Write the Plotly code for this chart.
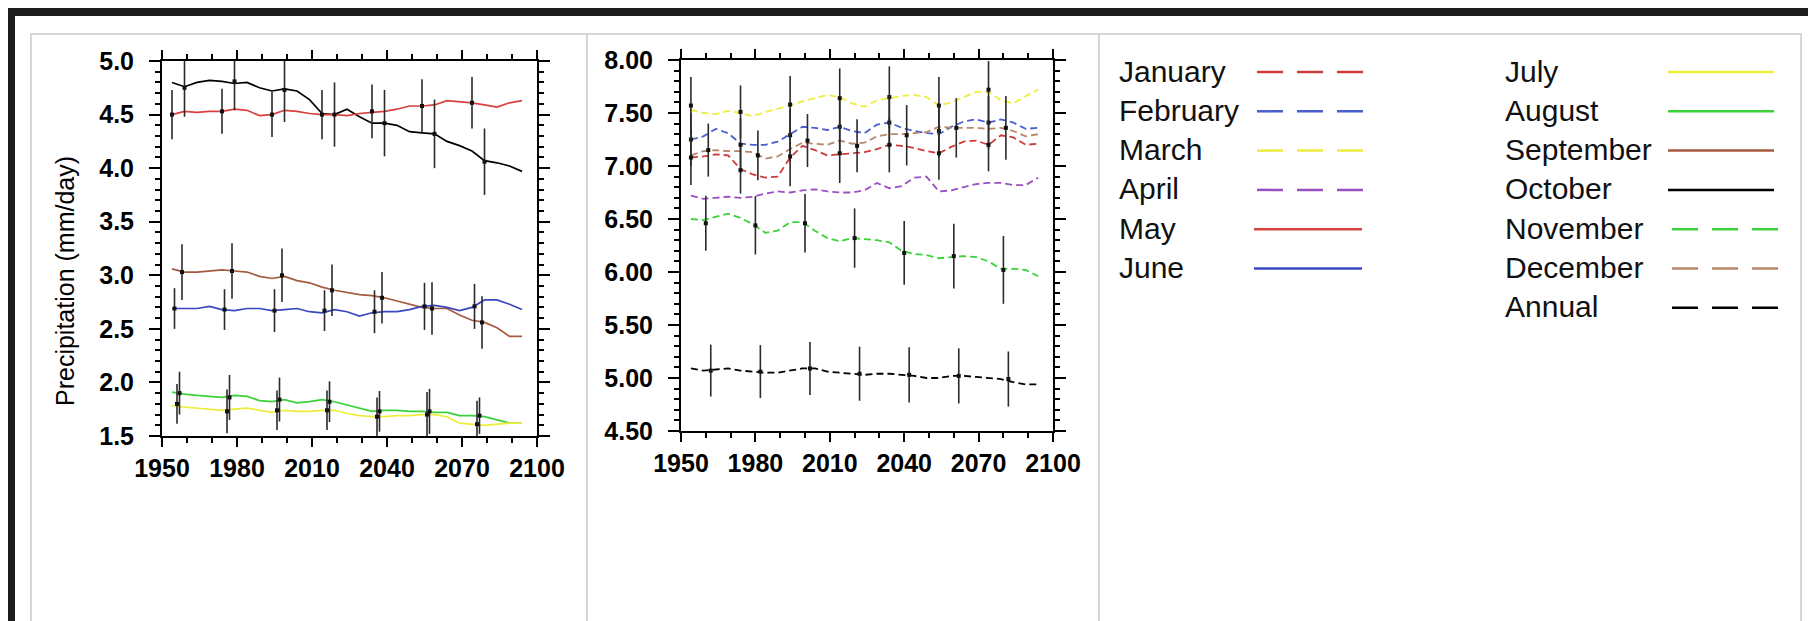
import plotly.graph_objects as go

W, H = 1816, 621

YEARS = [1954, 1959, 1964, 1969, 1974, 1979, 1984, 1989, 1994, 1999, 2004, 2009, 2014, 2019,
         2024, 2029, 2034, 2039, 2044, 2049, 2054, 2059, 2064, 2069, 2074, 2079, 2084, 2089, 2094]

# ---- left panel (solid lines) ----
OCT = [4.80, 4.76, 4.80, 4.82, 4.81, 4.79, 4.80, 4.75, 4.72, 4.74, 4.72, 4.64, 4.51, 4.50,
       4.55, 4.48, 4.42, 4.42, 4.40, 4.34, 4.33, 4.32, 4.25, 4.21, 4.16, 4.07, 4.05, 4.02, 3.97]
MAY = [4.50, 4.53, 4.52, 4.53, 4.53, 4.55, 4.54, 4.49, 4.50, 4.54, 4.53, 4.51, 4.50, 4.50,
       4.49, 4.51, 4.52, 4.53, 4.55, 4.58, 4.58, 4.59, 4.63, 4.62, 4.61, 4.59, 4.57, 4.61, 4.63]
SEP = [3.06, 3.03, 3.03, 3.04, 3.05, 3.04, 3.03, 2.99, 2.97, 2.99, 2.95, 2.93, 2.89, 2.86,
       2.84, 2.82, 2.81, 2.79, 2.76, 2.73, 2.70, 2.69, 2.69, 2.63, 2.58, 2.56, 2.51, 2.43, 2.43]
JUN = [2.69, 2.69, 2.69, 2.71, 2.68, 2.67, 2.69, 2.69, 2.67, 2.68, 2.69, 2.66, 2.65, 2.68,
       2.66, 2.62, 2.65, 2.66, 2.66, 2.68, 2.71, 2.72, 2.70, 2.67, 2.70, 2.77, 2.77, 2.73, 2.68]
AUG = [1.91, 1.89, 1.88, 1.87, 1.86, 1.88, 1.87, 1.83, 1.82, 1.84, 1.81, 1.82, 1.84, 1.82,
       1.79, 1.76, 1.73, 1.74, 1.74, 1.73, 1.73, 1.72, 1.72, 1.69, 1.69, 1.68, 1.65, 1.62, 1.62]
JUL = [1.78, 1.77, 1.76, 1.75, 1.74, 1.75, 1.76, 1.74, 1.72, 1.74, 1.73, 1.73, 1.74, 1.74,
       1.71, 1.69, 1.68, 1.68, 1.69, 1.69, 1.70, 1.70, 1.68, 1.62, 1.61, 1.60, 1.61, 1.62, 1.62]

# ---- middle panel (dashed lines) ----
MAR = [7.53, 7.50, 7.49, 7.52, 7.50, 7.47, 7.51, 7.54, 7.57, 7.61, 7.64, 7.67, 7.65, 7.59,
       7.56, 7.62, 7.64, 7.66, 7.67, 7.65, 7.57, 7.60, 7.65, 7.70, 7.70, 7.62, 7.59, 7.66, 7.72]
FEB = [7.25, 7.28, 7.35, 7.31, 7.21, 7.20, 7.20, 7.23, 7.30, 7.37, 7.36, 7.34, 7.37, 7.33,
       7.31, 7.39, 7.41, 7.36, 7.33, 7.31, 7.30, 7.37, 7.42, 7.44, 7.41, 7.44, 7.41, 7.35, 7.36]
JAN = [7.08, 7.09, 7.11, 7.10, 6.97, 6.92, 6.89, 6.90, 7.08, 7.19, 7.15, 7.10, 7.11, 7.12,
       7.13, 7.16, 7.20, 7.19, 7.17, 7.14, 7.12, 7.18, 7.23, 7.24, 7.20, 7.29, 7.27, 7.20, 7.21]
DEC = [7.10, 7.14, 7.15, 7.14, 7.14, 7.13, 7.07, 7.09, 7.16, 7.22, 7.21, 7.20, 7.24, 7.21,
       7.22, 7.28, 7.30, 7.30, 7.31, 7.32, 7.37, 7.36, 7.36, 7.36, 7.35, 7.36, 7.33, 7.28, 7.30]
APR = [6.72, 6.69, 6.70, 6.71, 6.70, 6.71, 6.74, 6.76, 6.75, 6.77, 6.78, 6.76, 6.75, 6.75,
       6.77, 6.84, 6.79, 6.81, 6.89, 6.90, 6.76, 6.77, 6.80, 6.83, 6.84, 6.84, 6.82, 6.82, 6.89]
NOV = [6.50, 6.49, 6.52, 6.55, 6.51, 6.45, 6.37, 6.39, 6.47, 6.47, 6.39, 6.32, 6.29, 6.32,
       6.31, 6.30, 6.28, 6.20, 6.17, 6.16, 6.13, 6.14, 6.15, 6.14, 6.10, 6.03, 6.03, 6.02, 5.96]
ANN = [5.09, 5.07, 5.08, 5.09, 5.07, 5.06, 5.05, 5.05, 5.07, 5.09, 5.09, 5.06, 5.05, 5.04,
       5.03, 5.04, 5.04, 5.03, 5.02, 5.00, 5.00, 5.02, 5.02, 5.01, 5.00, 4.99, 4.96, 4.94, 4.94]

# ---- error bars: (years, centres, half-widths) ----
OCT_BAR = ([1959, 1979, 1999, 2019, 2039, 2059, 2079], [4.75, 4.81, 4.73, 4.50, 4.42, 4.32, 4.06],
           [0.27, 0.27, 0.30, 0.30, 0.31, 0.32, 0.31])
MAY_BAR = ([1954, 1974, 1994, 2014, 2034, 2054, 2074], [4.50, 4.53, 4.50, 4.50, 4.53, 4.58, 4.61],
           [0.23, 0.21, 0.21, 0.23, 0.25, 0.25, 0.24])
SEP_BAR = ([1958, 1978, 1998, 2018, 2038, 2058, 2078], [3.03, 3.04, 3.00, 2.86, 2.79, 2.69, 2.56],
           [0.26, 0.26, 0.25, 0.24, 0.24, 0.245, 0.245])
JUN_BAR = ([1955, 1975, 1995, 2015, 2035, 2055, 2075], [2.69, 2.68, 2.67, 2.67, 2.66, 2.71, 2.71],
           [0.19, 0.19, 0.20, 0.19, 0.20, 0.22, 0.21])
AUG_BAR = ([1957, 1977, 1997, 2017, 2037, 2057, 2077], [1.90, 1.86, 1.84, 1.82, 1.73, 1.73, 1.69],
           [0.20, 0.21, 0.205, 0.19, 0.19, 0.21, 0.17])
JUL_BAR = ([1956, 1976, 1996, 2016, 2036, 2056, 2076], [1.80, 1.73, 1.74, 1.74, 1.68, 1.70, 1.61],
           [0.185, 0.205, 0.185, 0.185, 0.18, 0.21, 0.22])
MAR_BAR = ([1954, 1974, 1994, 2014, 2034, 2054, 2074], [7.57, 7.51, 7.58, 7.64, 7.65, 7.57, 7.72],
           [0.27, 0.25, 0.27, 0.28, 0.29, 0.27, 0.27])
FEB_BAR = ([1954, 1974, 1994, 2014, 2034, 2054, 2074], [7.25, 7.20, 7.29, 7.37, 7.41, 7.33, 7.41],
           [0.25, 0.25, 0.25, 0.25, 0.25, 0.25, 0.25])
JAN_BAR = ([1954, 1974, 1994, 2014, 2034, 2054, 2074], [7.08, 6.96, 7.09, 7.12, 7.20, 7.12, 7.20],
           [0.26, 0.22, 0.28, 0.28, 0.26, 0.25, 0.25])
DEC_BAR = ([1961, 1981, 2001, 2021, 2041, 2061, 2081], [7.15, 7.10, 7.24, 7.19, 7.29, 7.36, 7.36],
           [0.25, 0.235, 0.25, 0.25, 0.285, 0.28, 0.30])
NOV_BAR = ([1960, 1980, 2000, 2020, 2040, 2060, 2080], [6.46, 6.44, 6.46, 6.32, 6.18, 6.15, 6.02],
           [0.26, 0.275, 0.275, 0.28, 0.30, 0.305, 0.32])
ANN_BAR = ([1962, 1982, 2002, 2022, 2042, 2062, 2082], [5.07, 5.06, 5.09, 5.04, 5.03, 5.02, 4.99],
           [0.245, 0.25, 0.25, 0.255, 0.26, 0.26, 0.26])

X_TICKS = [1950, 1980, 2010, 2040, 2070, 2100]
Y1_TICKS = [1.5, 2.0, 2.5, 3.0, 3.5, 4.0, 4.5, 5.0]
Y2_TICKS = [4.5, 5.0, 5.5, 6.0, 6.5, 7.0, 7.5, 8.0]

COL = {
    "January": "#cc3b3b", "February": "#4a5fd0", "March": "#eded42", "April": "#9a50c0",
    "May": "#d94040", "June": "#3a48c0", "July": "#eded3c", "August": "#3ad13a",
    "September": "#a55a40", "October": "#000000", "November": "#3ad13a",
    "December": "#b8866a", "Annual": "#000000",
}

fig = go.Figure()

LEFT = [("October", OCT, OCT_BAR), ("May", MAY, MAY_BAR), ("September", SEP, SEP_BAR),
        ("June", JUN, JUN_BAR), ("August", AUG, AUG_BAR), ("July", JUL, JUL_BAR)]
MID = [("March", MAR, MAR_BAR), ("February", FEB, FEB_BAR), ("December", DEC, DEC_BAR),
       ("January", JAN, JAN_BAR), ("April", APR, None), ("November", NOV, NOV_BAR),
       ("Annual", ANN, ANN_BAR)]

for name, vals, bar in LEFT:
    fig.add_trace(go.Scatter(x=YEARS, y=vals, mode="lines", name=name, showlegend=False,
                             line=dict(color=COL[name], width=1.7), xaxis="x", yaxis="y"))
for name, vals, bar in MID:
    fig.add_trace(go.Scatter(x=YEARS, y=vals, mode="lines", name=name, showlegend=False,
                             line=dict(color=COL[name], width=1.8, dash="7px,4px"),
                             xaxis="x2", yaxis="y2"))

def add_bars(bar, xa, ya):
    yrs, c, h = bar
    fig.add_trace(go.Scatter(x=yrs, y=c, mode="markers", showlegend=False,
                             marker=dict(symbol="square", size=4, color="#111"),
                             error_y=dict(type="data", array=h, width=0, thickness=1.6,
                                          color="#2a2a2a"),
                             xaxis=xa, yaxis=ya))

for name, vals, bar in LEFT:
    add_bars(bar, "x", "y")
for name, vals, bar in MID:
    if bar is not None:
        add_bars(bar, "x2", "y2")

FONT = "Liberation Sans, Arial, sans-serif"
TICKFONT = dict(family=FONT, size=25, color="black", weight="bold")

def xaxis(domain, anchor):
    return dict(domain=domain, anchor=anchor, range=[1950, 2100], tickvals=X_TICKS,
                ticks="outside", ticklen=9, tickwidth=2, tickcolor="black",
                showline=True, linewidth=2, linecolor="black", mirror="ticks",
                showgrid=False, zeroline=False,
                minor=dict(dtick=10, tick0=1950, ticks="outside", ticklen=5, tickwidth=1.5,
                           tickcolor="black", showgrid=False),
                tickfont=TICKFONT)

def yaxis(domain, anchor, rng, ticks, fmt):
    return dict(domain=domain, anchor=anchor, range=rng, tickvals=ticks, tickformat=fmt,
                ticks="outside", ticklen=11, tickwidth=2, tickcolor="black",
                ticklabelstandoff=10,
                showline=True, linewidth=2, linecolor="black", mirror="ticks",
                showgrid=False, zeroline=False,
                minor=dict(dtick=0.1, tick0=rng[0], ticks="outside", ticklen=5, tickwidth=1.5,
                           tickcolor="black", showgrid=False),
                tickfont=TICKFONT)

def px_x(p):
    return p / W

def px_y(p):
    return 1 - p / H

shapes = []
annotations = []
# dark page edges, grey frame and separators of the three panels
shapes.append(dict(type="rect", xref="paper", yref="paper", x0=0, x1=1, y0=px_y(8), y1=1,
                   fillcolor="#1c1c1c", line=dict(width=0), layer="below"))
shapes.append(dict(type="rect", xref="paper", yref="paper", x0=0, x1=px_x(7), y0=0, y1=1,
                   fillcolor="#1c1c1c", line=dict(width=0), layer="below"))
shapes.append(dict(type="rect", xref="paper", yref="paper", x0=px_x(23), x1=px_x(1793),
                   y0=px_y(614), y1=px_y(26), fillcolor="rgba(0,0,0,0)",
                   line=dict(color="#d6d6d6", width=2), layer="below"))
for sx in (579, 1091):
    shapes.append(dict(type="line", xref="paper", yref="paper", x0=px_x(sx), x1=px_x(sx),
                       y0=px_y(614), y1=px_y(26), line=dict(color="#d6d6d6", width=2),
                       layer="below"))

# legend (text left, line sample right)
LEG_COL1 = ["January", "February", "March", "April", "May", "June"]
LEG_COL2 = ["July", "August", "September", "October", "November", "December", "Annual"]
DASHED = {"January", "February", "March", "April", "November", "December", "Annual"}
ROW0, ROWSTEP = 63, 39.3
for col, names in ((0, LEG_COL1), (1, LEG_COL2)):
    tx = 1109 if col == 0 else 1495
    for i, nm in enumerate(names):
        yy = ROW0 + i * ROWSTEP
        if col == 0:
            lx0, lx1 = (1249, 1357) if nm in DASHED else (1246, 1354)
        else:
            lx0, lx1 = (1664, 1772) if nm in DASHED else (1660, 1766)
        annotations.append(dict(xref="paper", yref="paper", x=px_x(tx), y=px_y(yy),
                                xanchor="left", yanchor="middle", showarrow=False, text=nm,
                                font=dict(family=FONT, size=30, color="#111")))
        shapes.append(dict(type="line", xref="paper", yref="paper", x0=px_x(lx0), x1=px_x(lx1),
                           y0=px_y(yy + 1), y1=px_y(yy + 1),
                           line=dict(color=COL[nm], width=2.5,
                                     dash="26px,14px" if nm in DASHED else "solid")))

annotations.append(dict(xref="paper", yref="paper", x=px_x(57), y=px_y(273), showarrow=False,
                        xanchor="center", yanchor="middle",
                        text="Precipitation (mm/day)", textangle=-90,
                        font=dict(family=FONT, size=25, color="black")))

fig.update_layout(
    width=W, height=H, margin=dict(l=0, r=0, t=0, b=0, pad=0, autoexpand=False),
    paper_bgcolor="white", plot_bgcolor="white",
    xaxis=xaxis([px_x(154), px_x(529)], "y"),
    yaxis=yaxis([px_y(428), px_y(53)], "x", [1.5, 5.0], Y1_TICKS, ".1f"),
    xaxis2=xaxis([px_x(673), px_x(1045)], "y2"),
    yaxis2=yaxis([px_y(423), px_y(52)], "x2", [4.5, 8.0], Y2_TICKS, ".2f"),
    shapes=shapes, annotations=annotations, showlegend=False,
)

fig.write_html("out.html")
